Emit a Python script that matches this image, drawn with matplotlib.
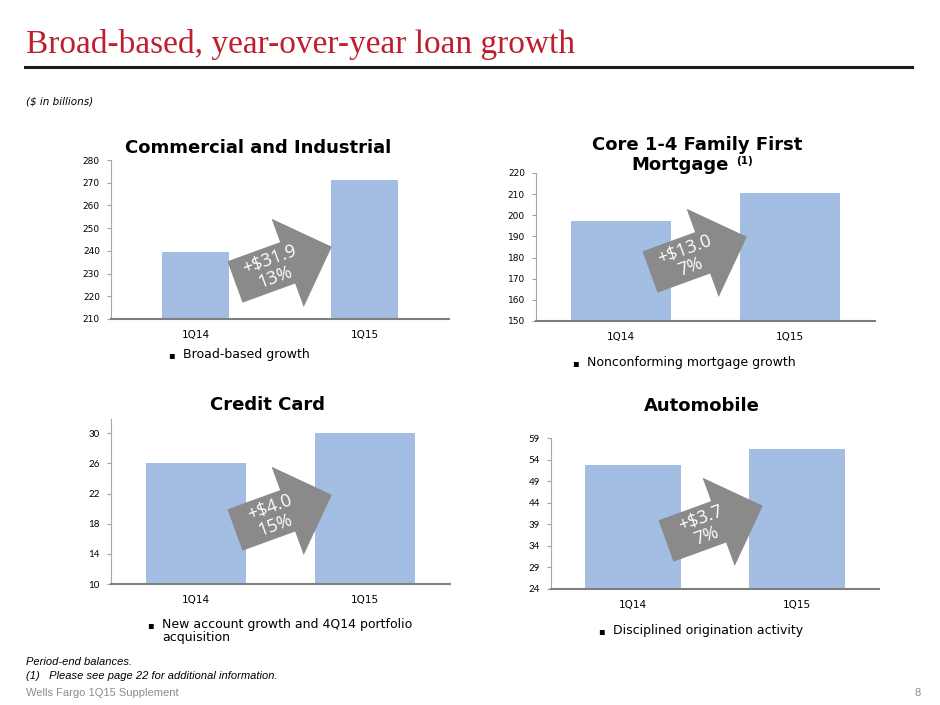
import numpy as np
import matplotlib.pyplot as plt
from matplotlib.patches import Polygon

# data ($ in billions)
quarters = ['1Q14', '1Q15']
ci_loans = [239.3, 271.2]
mortgage_loans = [197.4, 210.4]
card_loans = [26.1, 30.1]
auto_loans = [52.7, 56.4]
growth_labels = ['+$31.9\n13%', '+$13.0\n7%', '+$4.0\n15%', '+$3.7\n7%']

W, H = 940, 705
red = '#BE1E2D'
bar_color = '#A4BDE2'
arrow_gray = '#8A8A8A'

fig = plt.figure(figsize=(W / 100, H / 100), dpi=100)


def fx(x):
    return x / W


def fy(y):
    return 1 - y / H


def add_axes(x0, x1, ytop, ybot):
    return fig.add_axes([fx(x0), fy(ybot), (x1 - x0) / W, (ybot - ytop) / H])


def style(ax, ylim, ticks, tick_font, tick_size):
    ax.set_xlim(-0.5, 1.5)
    ax.set_ylim(*ylim)
    ax.set_yticks(ticks)
    ax.set_xticks(range(len(quarters)))
    ax.set_xticklabels(quarters, fontsize=7.5, family='DejaVu Sans')
    for lab in ax.get_yticklabels():
        lab.set_family(tick_font)
        lab.set_fontsize(tick_size)
    ax.tick_params(axis='x', length=0, pad=8)
    ax.tick_params(axis='y', length=3, width=0.8, color='#A0A0A0', pad=5)
    for s in ['top', 'right']:
        ax.spines[s].set_visible(False)
    ax.spines['left'].set_color('#A6A6A6')
    ax.spines['left'].set_linewidth(0.8)
    ax.spines['bottom'].set_color('#7F7F7F')
    ax.spines['bottom'].set_linewidth(1.5)
    ax.patch.set_alpha(0)


def arrow(tx, ty, label, ang=20, L=103, bw=22, hw=47, hl=47):
    a = np.radians(ang)
    d = np.array([np.cos(a), -np.sin(a)])
    n = np.array([-np.sin(a), -np.cos(a)])
    c = np.array([tx, ty])
    pts = [c + bw * n, c + (L - hl) * d + bw * n, c + (L - hl) * d + hw * n,
           c + L * d, c + (L - hl) * d - hw * n, c + (L - hl) * d - bw * n,
           c - bw * n]
    pts = [(fx(p[0]), fy(p[1])) for p in pts]
    fig.patches.append(Polygon(pts, closed=True, transform=fig.transFigure,
                               facecolor=arrow_gray, edgecolor='none', zorder=5))
    tc = c + 40 * d
    fig.text(fx(tc[0]), fy(tc[1]), label, rotation=ang, color='white',
             fontsize=13, family='Open Sans', ha='center', va='center',
             linespacing=1.0, rotation_mode='anchor', zorder=6)


def title(x, y, txt, ha='center'):
    fig.text(fx(x), fy(y), txt, fontsize=13, fontweight='bold',
             family='DejaVu Sans', ha=ha, va='center')


# Commercial and Industrial
ax1 = add_axes(111, 449, 160, 319)
style(ax1, (210, 280), range(210, 281, 10), 'DejaVu Sans', 6.5)
ax1.bar(range(2), ci_loans, width=0.4, color=bar_color)
title(258, 148, 'Commercial and Industrial')
arrow(235, 282, growth_labels[0])

# Core 1-4 Family First Mortgage
ax2 = add_axes(536, 875, 173, 321)
style(ax2, (150, 220), range(150, 221, 10), 'DejaVu Sans', 6.5)
ax2.bar(range(2), mortgage_loans, width=0.59, color=bar_color)
title(697, 145, 'Core 1-4 Family First')
title(729, 165, 'Mortgage', ha='right')
fig.text(fx(736), fy(161), '(1)', fontsize=7.5, fontweight='bold',
         family='DejaVu Sans', ha='left', va='center')
arrow(650, 272, growth_labels[1])

# Credit Card
ax3 = add_axes(111, 450, 419, 584)
style(ax3, (10, 31.9), range(10, 31, 4), 'Lato', 7)
ax3.bar(range(2), card_loans, width=0.59, color=bar_color)
title(268, 405, 'Credit Card')
arrow(235, 530, growth_labels[2])

# Automobile
ax4 = add_axes(551, 879, 438, 589)
style(ax4, (24, 59), range(24, 60, 5), 'Lato', 7)
ax4.bar(range(2), auto_loans, width=0.585, color=bar_color)
title(702, 406, 'Automobile')
arrow(666, 541, growth_labels[3])

# bullets
bullets = [(168, 355, 'Broad-based growth'),
           (572, 363, 'Nonconforming mortgage growth'),
           (147, 625, 'New account growth and 4Q14 portfolio\nacquisition'),
           (598, 631, 'Disciplined origination activity')]
for bx, by, txt in bullets:
    fig.text(fx(bx), fy(by), '\u25aa', fontsize=7, ha='left', va='center',
             family='DejaVu Sans')
    fig.text(fx(bx + 15), fy(by - 7), txt, fontsize=9, family='DejaVu Sans',
             ha='left', va='top', linespacing=1.05)

# header
fig.text(fx(26), fy(53), 'Broad-based, year-over-year loan growth', fontsize=24,
         color=red, family='Liberation Serif', ha='left', va='baseline')
fig.add_artist(plt.Line2D([fx(25), fx(912)], [fy(67), fy(67)], color='#1A1A1A',
                          linewidth=2.2, transform=fig.transFigure))
fig.text(fx(26), fy(101), '($ in billions)', fontsize=7.5, style='italic',
         family='DejaVu Sans', ha='left', va='center')

# footer
fig.text(fx(26), fy(662), 'Period-end balances.', fontsize=8, style='italic',
         family='Liberation Sans', ha='left', va='center')
fig.text(fx(26), fy(676), '(1)   Please see page 22 for additional information.',
         fontsize=8, style='italic', family='Liberation Sans', ha='left', va='center')
fig.text(fx(26), fy(693), 'Wells Fargo 1Q15 Supplement', fontsize=8,
         color='#8C8C8C', family='Liberation Sans', ha='left', va='center')
fig.text(fx(921), fy(693), '8', fontsize=8, color='#8C8C8C',
         family='Liberation Sans', ha='right', va='center')

fig.savefig('out.png', dpi=100)
